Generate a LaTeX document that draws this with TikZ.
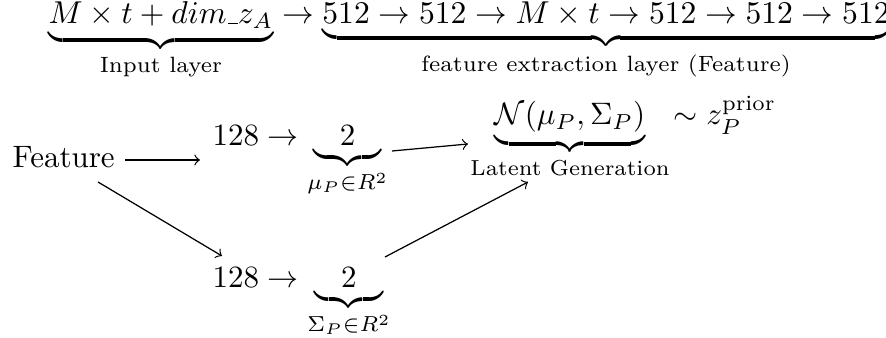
\documentclass[tikz,border=0pt]{standalone}
\usepackage{amsmath}
\newcommand{\myuscore}{\mbox{\kern.06em\vbox{\hrule width .3em}}}
\begin{document}
\begin{tikzpicture}[x=0.3226pt,y=-0.3226pt,
  lbl/.style={inner sep=0pt,anchor=base west},
  conn/.style={->,>=to,line width=0.4pt}]
\useasboundingbox (0,0) rectangle (886,338);
\node[lbl,scale=1.02,transform shape] (top) at (48,24) {$\underbrace{M \times t + dim\myuscore z_A}_{\text{Input layer}} \to \underbrace{512 \to 512 \to M \times t \to 512 \to 512 \to 512}_{\text{feature extraction layer (Feature)}}$};
\node[lbl] (feat) at (12,168) {Feature};
\node[lbl] (mu) at (212,146) {$128 \to \underbrace{\hbox to 2.2em{\hss$2$\hss}}_{\mu_P \in R^2}$};
\node[lbl] (sig) at (212,288) {$128 \to \underbrace{\hbox to 2.2em{\hss$2$\hss}}_{\Sigma_P \in R^2}$};
\node[inner sep=0pt,anchor=base] (lat) at (570,125) {$\underbrace{\mathcal{N}(\mu_P, \Sigma_P)}_{\text{Latent Generation}}$};
\node[lbl] (zp) at (673,125) {$\sim z_P^{\text{prior}}$};
\coordinate (a1) at (125,160);
\coordinate (a2) at (200,160);
\draw[conn] (a1) -- (a2);
\coordinate (b1) at (98,182);
\coordinate (b2) at (222,256);
\draw[conn] (b1) -- (b2);
\coordinate (c1) at (392,151);
\coordinate (c2) at (468,144);
\draw[conn] (c1) -- (c2);
\coordinate (d1) at (385,257);
\coordinate (d2) at (528,182);
\draw[conn] (d1) -- (d2);
\end{tikzpicture}
\end{document}
